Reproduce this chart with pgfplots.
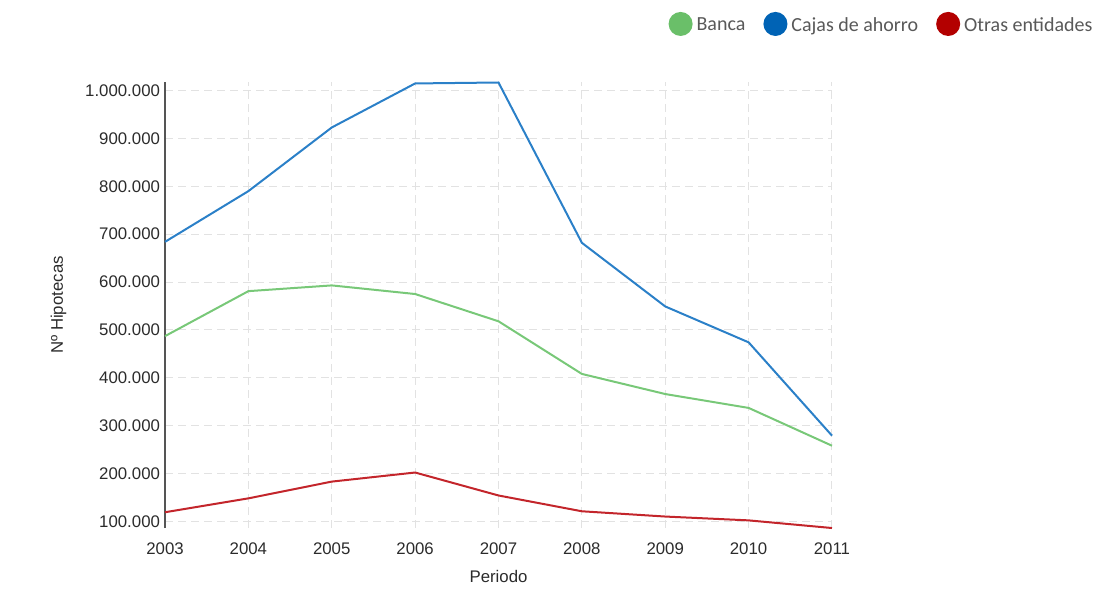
\documentclass[border=0pt]{standalone}
\usepackage{fontspec}
\setmainfont{Liberation Sans}
\newfontfamily\carlito{Carlito}
\usepackage{pgfplots}
\pgfplotsset{compat=1.18}

\definecolor{bancaline}{HTML}{78C878}
\definecolor{cajasline}{HTML}{2B80C8}
\definecolor{otrasline}{HTML}{C3252B}
\definecolor{bancaleg}{HTML}{6ABF69}
\definecolor{cajasleg}{HTML}{0063B5}
\definecolor{otrasleg}{HTML}{B30000}
\definecolor{gridgray}{HTML}{E2E2E2}
\definecolor{txt}{HTML}{2B2B2B}

\begin{document}
\begin{tikzpicture}
\begin{axis}[
    scale only axis,
    width=333.5pt, height=223pt,
    xmin=2003, xmax=2011,
    ymin=86000, ymax=1018000,
    xtick={2003,...,2011},
    ytick={100000,200000,...,1000000},
    scaled y ticks=false,
    x tick label style={/pgf/number format/.cd, 1000 sep={}, assume math mode=true},
    y tick label style={/pgf/number format/.cd, fixed, 1000 sep={.}, assume math mode=true},
    tick label style={font=\fontsize{8.4}{10}\selectfont, text=txt},
    label style={font=\fontsize{8.4}{10}\selectfont, text=txt},
    major tick length=0pt,
    xticklabel shift=4pt,
    yticklabel shift=-1pt,
    xlabel={Periodo},
    ylabel={Nº Hipotecas},
    xlabel style={yshift=-1pt},
    ylabel style={yshift=2.5pt},
    grid=major,
    major grid style={gridgray, dash pattern=on 4pt off 2.5pt, line width=0.5pt},
    axis x line*=bottom,
    axis y line*=left,
    x axis line style={draw=none},
    y axis line style={draw=txt!80, line width=0.6pt, -},
    clip=false,
    legend columns=3,
    legend style={at={(1.397,1.158)}, anchor=north east, draw=none,
        font=\carlito\fontsize{10}{12}\selectfont, text=black!65,
        /tikz/every even column/.append style={column sep=7pt},
        inner sep=0pt},
]
\addplot[bancaline, line width=1pt,
    legend image code/.code={\fill[bancaleg] (0.3cm,1pt) circle (5.5pt);}]
    coordinates {(2003,487000) (2004,581000) (2005,593000) (2006,575000) (2007,518000)
                 (2008,408000) (2009,366000) (2010,337000) (2011,258000)};
\addlegendentry{Banca}
\addplot[cajasline, line width=1pt,
    legend image code/.code={\fill[cajasleg] (0.3cm,1pt) circle (5.5pt);}]
    coordinates {(2003,684000) (2004,790000) (2005,923000) (2006,1015000) (2007,1017000)
                 (2008,682000) (2009,549000) (2010,474000) (2011,279000)};
\addlegendentry{Cajas de ahorro}
\addplot[otrasline, line width=1pt,
    legend image code/.code={\fill[otrasleg] (0.3cm,1pt) circle (5.5pt);}]
    coordinates {(2003,119000) (2004,148000) (2005,183000) (2006,202000) (2007,154000)
                 (2008,121000) (2009,110000) (2010,102000) (2011,86000)};
\addlegendentry{Otras entidades}
\path[use as bounding box] (rel axis cs:-0.2474,-0.1525) rectangle (rel axis cs:1.4018,1.1839);
\end{axis}
\end{tikzpicture}
\end{document}
